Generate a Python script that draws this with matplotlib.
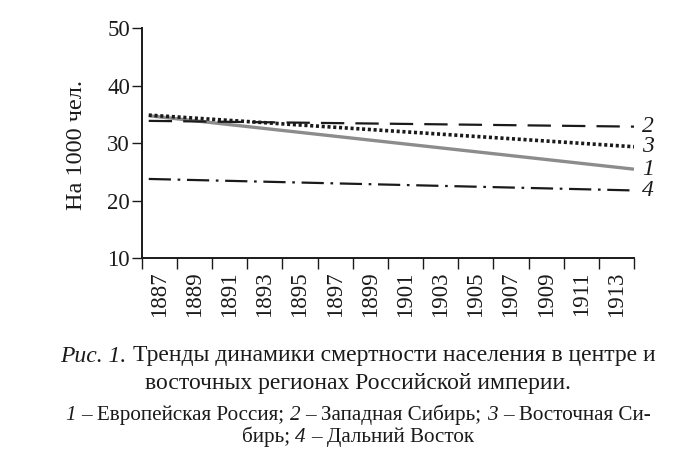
import matplotlib
matplotlib.use("Agg")
import matplotlib.pyplot as plt
from matplotlib.ticker import FixedLocator, NullFormatter, FixedFormatter
from matplotlib.transforms import IdentityTransform

plt.rcParams['font.family'] = ['Liberation Serif', 'DejaVu Serif']

# ---------------- data ----------------
trend_years = [1886.4, 1914.0]            # start / end of the trend lines
europe_russia = [34.8, 25.5]              # 1
west_siberia = [33.9, 32.9]               # 2
east_siberia = [34.9, 29.4]               # 3
far_east = [23.8, 21.8]                   # 4
line_labels = ['1', '2', '3', '4']
tick_years = list(range(1887, 1914, 2))
tick_labels = [str(y) for y in tick_years]
y_ticks = [10, 20, 30, 40, 50]
y_label = 'На 1000 чел.'
caption_lines = [
    [("Рис. 1.", 'italic'), ("Тренды динамики смертности населения в центре и", 'normal')],
    [("восточных регионах Российской империи.", 'normal')],
    [("1", 'italic'), ("– Европейская Россия;", 'normal'), ("2", 'italic'),
     ("– Западная Сибирь;", 'normal'), ("3", 'italic'), ("– Восточная Си-", 'normal')],
    [("бирь;", 'normal'), ("4", 'italic'), ("– Дальний Восток", 'normal')],
]

# ---------------- figure ----------------
W, H = 683, 468
fig = plt.figure(figsize=(W / 100, H / 100), dpi=100)
ax_l, ax_r, ax_t, ax_b = 141.7, 634.0, 28.3, 258.3
ax = fig.add_axes([ax_l / W, 1 - ax_b / H, (ax_r - ax_l) / W, (ax_b - ax_t) / H])

ink = '#1a1a1a'
ax.plot(trend_years, europe_russia, color='#8c8c8c', lw=2.4, solid_capstyle='butt', zorder=3)
ax.plot(trend_years, west_siberia, color=ink, lw=1.6, dashes=(10.5, 5.0), dash_capstyle='butt', zorder=4)
ax.plot(trend_years, east_siberia, color=ink, lw=2.6, dashes=(0.85, 0.75), dash_capstyle='butt', zorder=5)
ax.plot(trend_years, far_east, color=ink, lw=1.6, dashes=(10.0, 3.0, 1.2, 3.0), dash_capstyle='butt', zorder=4)

ends = [europe_russia[-1], west_siberia[-1], east_siberia[-1], far_east[-1]]
for lab, yv in zip(line_labels, ends):
    ax.annotate(lab, xy=(trend_years[-1], yv), xytext=(6, 0), textcoords='offset points',
                ha='left', va='center', fontsize=17, fontstyle='italic', color=ink,
                annotation_clip=False)

ax.set_xlim(1886, 1914)
ax.set_ylim(10, 50)
ax.spines['top'].set_visible(False)
ax.spines['right'].set_visible(False)
for s in ('left', 'bottom'):
    ax.spines[s].set_linewidth(1.4)
    ax.spines[s].set_color(ink)

ax.xaxis.set_major_locator(FixedLocator([y - 1 for y in tick_years] + [tick_years[-1] + 1]))
ax.xaxis.set_major_formatter(NullFormatter())
ax.xaxis.set_minor_locator(FixedLocator(tick_years))
ax.xaxis.set_minor_formatter(FixedFormatter(tick_labels))
ax.tick_params(axis='x', which='major', length=8, width=1.0, color=ink, direction='out')
ax.tick_params(axis='x', which='minor', length=0, pad=9.5, labelsize=16.5, labelcolor=ink,
               labelrotation=90)
for t in ax.xaxis.get_minorticklabels():
    t.set_va('top')
    t.set_ha('center')

ax.set_yticks(y_ticks)
ax.tick_params(axis='y', length=7.5, width=1.0, color=ink, pad=1.0, labelsize=16.5,
               labelcolor=ink)

fig.text(76, H - 145, y_label, transform=IdentityTransform(), rotation=90,
         ha='center', va='center', fontsize=17.5, color=ink)

# ---------------- caption with mixed styles ----------------
renderer = fig.canvas.get_renderer()


def measure(s, size, style):
    t = fig.text(0, 0, s, fontsize=size, fontstyle=style, transform=IdentityTransform())
    w = t.get_window_extent(renderer).width
    t.remove()
    return w


def line_width(runs, size):
    sp = measure("x x", size, 'normal') - measure("xx", size, 'normal')
    return sum(measure(s, size, st) for s, st in runs) + sp * (len(runs) - 1), sp


def draw_runs(runs, cx, baseline, size):
    total, sp = line_width(runs, size)
    x = cx - total / 2
    for s, st in runs:
        fig.text(x, H - baseline, s, fontsize=size, fontstyle=st, color=ink,
                 transform=IdentityTransform(), ha='left', va='baseline')
        x += measure(s, size, st) + sp


base = 14.5
w1, _ = line_width(caption_lines[0], base)
size1 = base * 595.0 / w1
w3, _ = line_width(caption_lines[2], 12.0)
size3 = 12.0 * 587.0 / w3

cx = 358.0
draw_runs(caption_lines[0], cx, 361.5, size1)
draw_runs(caption_lines[1], cx, 388.5, size1)
draw_runs(caption_lines[2], cx, 420.0, size3)
draw_runs(caption_lines[3], cx, 442.0, size3)

fig.savefig('out.png', dpi=100)
